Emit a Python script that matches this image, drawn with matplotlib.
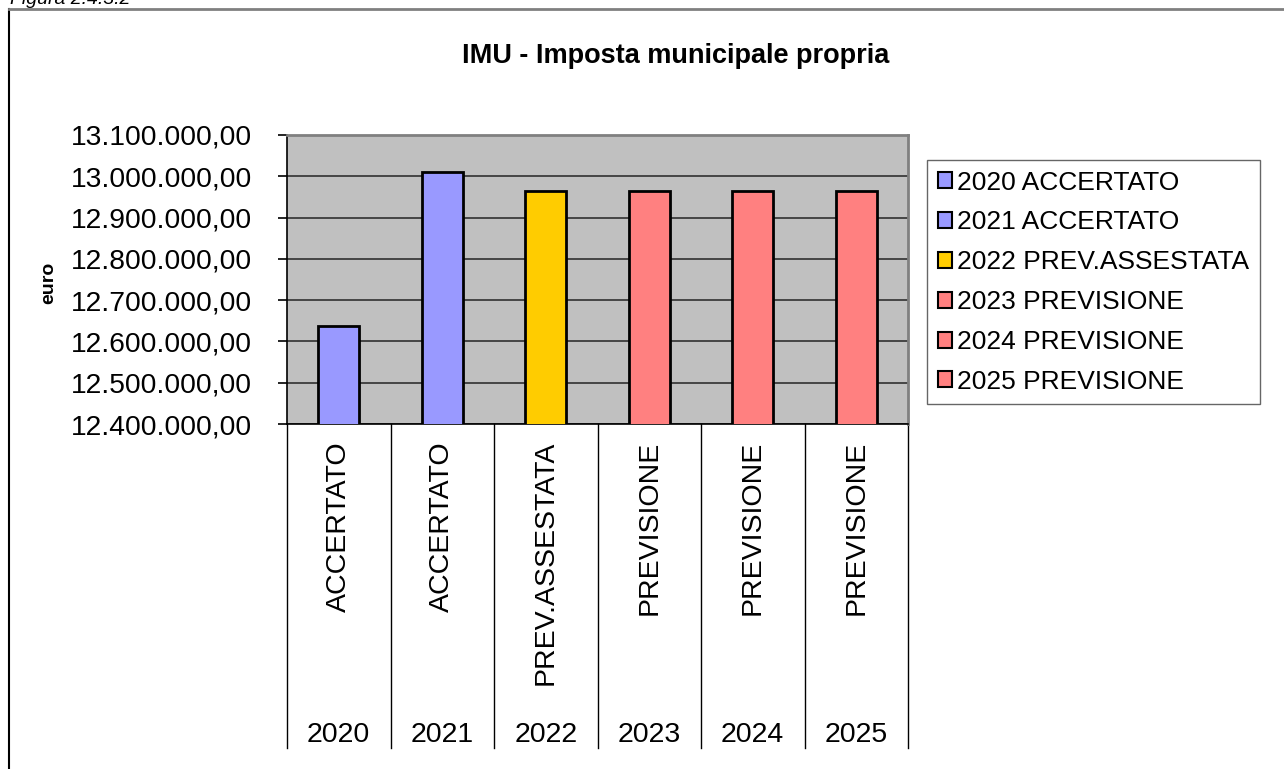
import matplotlib
matplotlib.use("Agg")
import matplotlib.pyplot as plt
from matplotlib.patches import Patch
from matplotlib.ticker import FuncFormatter, MultipleLocator
import matplotlib.transforms as mtransforms

plt.rcParams['font.family'] = ['Liberation Sans', 'DejaVu Sans']

# Dati
anni = ["2020", "2021", "2022", "2023", "2024", "2025"]
tipi = ["ACCERTATO", "ACCERTATO", "PREV.ASSESTATA", "PREVISIONE", "PREVISIONE", "PREVISIONE"]
valori = [12637900, 13011300, 12964500, 12964500, 12964500, 12964500]
colori = ["#9999FF", "#9999FF", "#FFCC00", "#FF8080", "#FF8080", "#FF8080"]


def formato_it(v, pos):
    s = f"{v:,.2f}"
    return s.replace(",", "X").replace(".", ",").replace("X", ".")


fig = plt.figure(figsize=(12.84, 7.69), dpi=100)
ax_bottom = 1 - 424 / 769
ax = fig.add_axes([287 / 1284, ax_bottom, 621 / 1284, 289 / 769])

x = list(range(len(anni)))
ax.bar(x, valori, width=0.4, color=colori, edgecolor='black', linewidth=2, zorder=3)

ax.set_xlim(-0.5, len(anni) - 0.5)
ax.set_ylim(12400000, 13100000)
ax.yaxis.set_major_locator(MultipleLocator(100000))
ax.yaxis.set_major_formatter(FuncFormatter(formato_it))
ax.set_facecolor('#C0C0C0')
ax.grid(axis='y', color='#303030', linewidth=1.2, zorder=1)
ax.tick_params(axis='y', labelsize=20.3, direction='out', length=6.5, width=1.2, pad=18.5)
ax.set_xticks([])
ax.set_ylabel('euro', fontsize=14, fontweight='bold', labelpad=2)
ax.yaxis.set_label_coords(57 / 1284, 1 - 283 / 769, transform=fig.transFigure)

for lato in ['top', 'right']:
    ax.spines[lato].set_color('#808080')
    ax.spines[lato].set_linewidth(2)
for lato in ['left', 'bottom']:
    ax.spines[lato].set_color('black')
    ax.spines[lato].set_linewidth(1.2)

# etichette a due livelli sotto l'asse
trans = mtransforms.blended_transform_factory(ax.transData, fig.transFigure)
y_basso = 1 - 748 / 769
for i in range(len(anni) + 1):
    ax.plot([i - 0.5, i - 0.5], [ax_bottom, y_basso], transform=trans, color='black',
            linewidth=1, clip_on=False)
for i, (a, t) in enumerate(zip(anni, tipi)):
    ax.text(i, 1 - 441 / 769, t, transform=trans, rotation=90, ha='center', va='top',
            fontsize=20.5)
    ax.text(i, 1 - 735 / 769, a, transform=trans, ha='center', va='center', fontsize=20.5)

fig.text(676 / 1284, 1 - 56 / 769, 'IMU - Imposta municipale propria', ha='center',
         va='center', fontsize=19.5, fontweight='bold')
fig.text(0.008, 1.0, 'Figura 2.4.3.2', ha='left', va='center', fontsize=14, style='italic')

# cornice del grafico
fig.add_artist(plt.Line2D([9 / 1284, 9 / 1284], [0, 1 - 9 / 769], color='black', linewidth=1.5))
fig.add_artist(plt.Line2D([9 / 1284, 1], [1 - 9 / 769, 1 - 9 / 769], color='#808080', linewidth=2))

maniglie = [Patch(facecolor=c, edgecolor='black', linewidth=1.5) for c in colori]
etichette = [f"{a} {t}" for a, t in zip(anni, tipi)]
leg = fig.legend(maniglie, etichette, loc='upper left', bbox_to_anchor=(927 / 1284, 1 - 160 / 769),
                 fontsize=19, frameon=True, fancybox=False, edgecolor='#404040',
                 handlelength=0.55, handleheight=0.55, handletextpad=0.2,
                 labelspacing=0.6, borderpad=0.4, borderaxespad=0)
leg.get_frame().set_linewidth(1)

fig.savefig('out.png', dpi=100)
